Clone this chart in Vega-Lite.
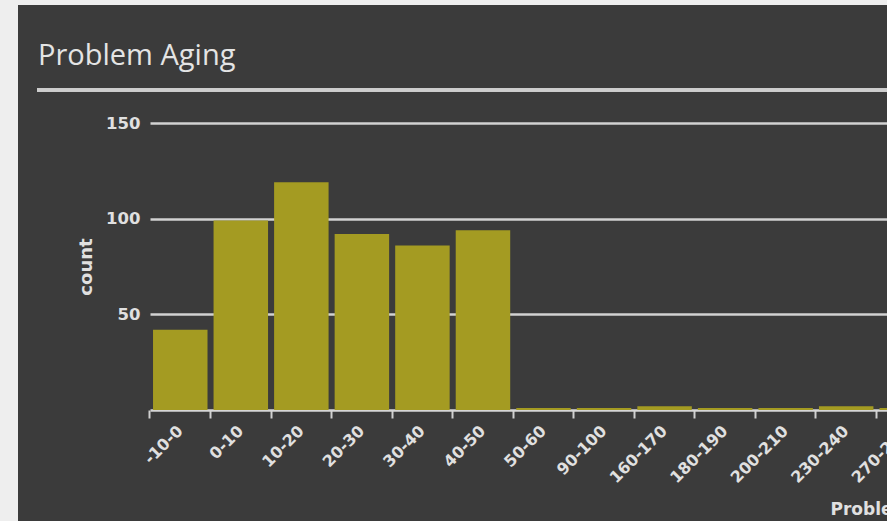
{
  "$schema": "https://vega.github.io/schema/vega-lite/v6.json",
  "background": "#eeeeee",
  "padding": {"left": 18, "top": 5, "right": 0, "bottom": 0},
  "width": 920,
  "height": 530,
  "title": {
    "text": "Problem Aging",
    "anchor": "start",
    "frame": "group",
    "orient": "top",
    "baseline": "alphabetic",
    "offset": -89,
    "dx": 20,
    "font": "Open Sans",
    "fontSize": 29,
    "fontWeight": "normal",
    "color": "#e4e4e4"
  },
  "data": {
    "values": [
      {"range": "-10-0", "count": 42},
      {"range": "0-10", "count": 99},
      {"range": "10-20", "count": 119},
      {"range": "20-30", "count": 92},
      {"range": "30-40", "count": 86},
      {"range": "40-50", "count": 94},
      {"range": "50-60", "count": 1},
      {"range": "90-100", "count": 1},
      {"range": "160-170", "count": 2},
      {"range": "180-190", "count": 1},
      {"range": "200-210", "count": 1},
      {"range": "230-240", "count": 2},
      {"range": "270-280", "count": 1}
    ]
  },
  "layer": [
    {
      "mark": {"type": "bar", "color": "#a49b22"},
      "encoding": {
        "x": {
          "field": "range",
          "type": "nominal",
          "sort": null,
          "scale": {"range": [132, 919], "paddingInner": 0.1, "paddingOuter": 0.05},
          "axis": {
            "orient": "bottom",
            "offset": -125,
            "bandPosition": -0.0556,
            "domainColor": "#d6d6d6",
            "domainWidth": 2.5,
            "tickColor": "#d0d0d0",
            "tickWidth": 2,
            "tickSize": 8,
            "labelAngle": -45,
            "labelAlign": "right",
            "labelBaseline": "middle",
            "labelOffset": 0,
            "labelPadding": 10,
            "labelFont": "DejaVu Sans",
            "labelFontSize": 16,
            "labelFontWeight": "bold",
            "labelColor": "#e0e0e0",
            "labelOverlap": false,
            "labelFlush": false,
            "labelBound": false,
            "title": "Problem Age (days)",
            "titleX": 812,
            "titleY": 104,
            "titleAlign": "left",
            "titleAnchor": "start",
            "titleBaseline": "alphabetic",
            "titleFont": "DejaVu Sans",
            "titleFontSize": 17,
            "titleFontWeight": "bold",
            "titleColor": "#e0e0e0"
          }
        },
        "y": {
          "field": "count",
          "type": "quantitative",
          "scale": {"domain": [0, 150], "range": [405, 118], "nice": false},
          "axis": {
            "offset": -132,
            "values": [50, 100, 150],
            "domain": false,
            "ticks": false,
            "grid": true,
            "gridColor": "#d2d2d2",
            "gridWidth": 2.5,
            "labelPadding": 10,
            "labelFont": "DejaVu Sans",
            "labelFontSize": 16.5,
            "labelFontWeight": "bold",
            "labelColor": "#e0e0e0",
            "title": "count",
            "titleFont": "DejaVu Sans",
            "titleFontSize": 18,
            "titleFontWeight": "bold",
            "titleColor": "#e0e0e0",
            "titlePadding": 10
          }
        }
      }
    },
    {
      "mark": {"type": "rule", "color": "#cdcdcd", "strokeWidth": 2.5},
      "encoding": {
        "x": {"datum": 0, "type": "quantitative", "scale": {"domain": [0, 1], "range": [19, 920], "nice": false, "zero": false}, "axis": null},
        "x2": {"datum": 1},
        "y": {
          "datum": 167.2,
          "type": "quantitative",
          "scale": {"domain": [0, 150], "range": [405, 118], "nice": false},
          "axis": {
            "offset": -132,
            "values": [50, 100, 150],
            "domain": false,
            "ticks": false,
            "grid": true,
            "gridColor": "#d2d2d2",
            "gridWidth": 2.5,
            "labelPadding": 10,
            "labelFont": "DejaVu Sans",
            "labelFontSize": 16.5,
            "labelFontWeight": "bold",
            "labelColor": "#e0e0e0",
            "title": "count",
            "titleFont": "DejaVu Sans",
            "titleFontSize": 18,
            "titleFontWeight": "bold",
            "titleColor": "#e0e0e0",
            "titlePadding": 10
          }
        }
      }
    }
  ],
  "resolve": {"scale": {"x": "independent"}, "axis": {"x": "independent"}},
  "config": {
    "view": {"fill": "#3b3b3b", "stroke": null}
  }
}
